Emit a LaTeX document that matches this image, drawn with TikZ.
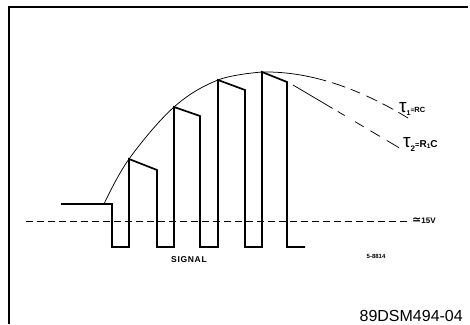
\documentclass[tikz,border=0pt]{standalone}
\usepackage{fontspec}
\setmainfont{Liberation Sans}
\newfontfamily\djv{DejaVu Sans}
\begin{document}
\begin{tikzpicture}[x=1pt,y=-1pt,
  frame/.style={line width=1.5pt},
  pulse/.style={line width=1.7pt,line join=miter},
  env/.style={line width=0.75pt},
  ref/.style={line width=0.9pt,dash pattern=on 7pt off 4pt},
  lbl/.style={inner sep=0pt,font=\bfseries}]
\useasboundingbox (0,0) rectangle (470,324);
\fill[white] (0,0) rectangle (470,324);
% frame
\draw[frame] (9,324) -- (9,7) -- (468,7);
% reference level
\coordinate (r0) at (26,221);
\coordinate (r1) at (411,221);
\draw[ref] (r0) -- (r1);
% envelope
\draw[env] plot[smooth,tension=0.6] coordinates {(104,204) (129,159) (174,107) (218,80) (262,72)};
\coordinate (pk) at (262,72);
\coordinate (t1) at (408,118);
\draw[env,dash pattern=on 65pt off 6pt on 14pt off 6pt on 10pt off 7pt on 12pt off 6pt on 12pt off 6pt on 14pt]
  (pk) .. controls (315,71) and (365,92) .. (t1);
\coordinate (s2) at (293,85);
\coordinate (t2) at (408,153);
\draw[env,dash pattern=on 46pt off 6pt on 8pt off 12pt on 10pt off 8pt on 11pt off 8pt on 14pt]
  (s2) -- (t2);
% signal
\draw[pulse] (61,204) -- (112,204) -- (112,247) -- (129,247) -- (129,159) -- (157,170) -- (157,247)
  -- (174,247) -- (174,107) -- (200,116) -- (200,247) -- (218,247) -- (218,80) -- (245,90) -- (245,247)
  -- (262,247) -- (262,72) -- (287,82) -- (287,247) -- (305,247);
% labels
\node[lbl,anchor=west] (lt1) at (399,109) {{\mdseries\fontsize{19}{19}\selectfont τ}\raisebox{-3pt}{\fontsize{7}{7}\selectfont 1}{\fontsize{6.5}{6.5}\selectfont =}{\fontsize{7.5}{7.5}\selectfont RC}};
\node[lbl,anchor=west] (lt2) at (403,144) {{\mdseries\fontsize{19}{19}\selectfont τ}\raisebox{-4pt}{\fontsize{8}{8}\selectfont 2}{\fontsize{7.5}{7.5}\selectfont =}{\fontsize{10}{10}\selectfont R\raisebox{-1pt}{\fontsize{6.5}{6.5}\selectfont 1}C}};
\node[lbl,anchor=west] (lv) at (412,221) {{\djv\fontsize{11}{11}\selectfont ≃}{\fontsize{8}{8}\selectfont 15V}};
\node[lbl] (lsig) at (189,260) {\fontsize{8.5}{8.5}\selectfont\addfontfeatures{LetterSpace=8}SIGNAL};
\node[lbl] (lnum) at (376,256) {\fontsize{6}{6}\selectfont 5-8814};
\node[inner sep=0pt,anchor=base east] (lid) at (463,321) {\fontsize{16}{16}\selectfont 89DSM494-04};
\end{tikzpicture}
\end{document}
